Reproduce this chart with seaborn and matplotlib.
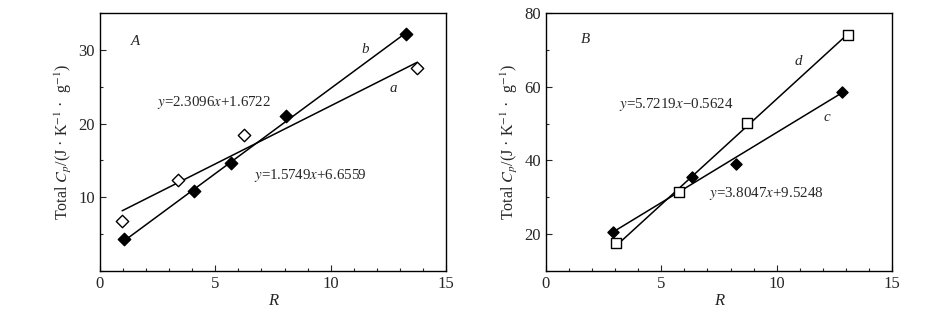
import numpy as np
import pandas as pd
import matplotlib
matplotlib.use("Agg")
import matplotlib.pyplot as plt
import seaborn as sns
from matplotlib.ticker import MultipleLocator

# ---- data ----
# Panel A
a_x = [0.96, 3.4, 6.24, 13.75]
a_y = [6.8, 12.4, 18.5, 27.5]
b_x = [1.02, 4.07, 5.66, 8.08, 13.25]
b_y = [4.3, 10.8, 14.6, 21.0, 32.1]
a_coef = (1.5749, 6.6559)
b_coef = (2.3096, 1.6722)
# Panel B
c_x = [2.89, 6.31, 8.25, 12.85]
c_y = [20.5, 35.5, 39.1, 58.6]
d_x = [3.04, 5.78, 8.70, 13.08]
d_y = [17.6, 31.4, 50.1, 73.9]
c_coef = (3.8047, 9.5248)
d_coef = (5.7219, -0.5624)

eq_a = r"$y$=1.5749$x$+6.6559"
eq_b = r"$y$=2.3096$x$+1.6722"
eq_c = r"$y$=3.8047$x$+9.5248"
eq_d = r"$y$=5.7219$x$−0.5624"
ylabel = r"Total $C_p$/(J · K$^{-1}$ ·  g$^{-1}$)"

sns.set_style("ticks")
plt.rcParams["font.family"] = ["Liberation Serif", "DejaVu Serif"]
plt.rcParams["mathtext.fontset"] = "stix"
plt.rcParams["xtick.direction"] = "in"
plt.rcParams["ytick.direction"] = "in"

fig = plt.figure(figsize=(9.45, 3.25), dpi=100)
axA = fig.add_axes([100/945, 54/325, 346/945, 258/325])
axB = fig.add_axes([546/945, 54/325, 346/945, 258/325])

FS = 10.8
TFS = 12

def fitline(ax, xs, coef):
    x = np.array([min(xs), max(xs)])
    df = pd.DataFrame({"x": x, "y": coef[0]*x + coef[1]})
    sns.lineplot(data=df, x="x", y="y", ax=ax, color="black", lw=1.1, legend=False)

def pts(ax, xs, ys, marker, filled, size):
    df = pd.DataFrame({"x": xs, "y": ys})
    sns.scatterplot(data=df, x="x", y="y", ax=ax, marker=marker, s=size,
                    facecolor="black" if filled else "white",
                    edgecolor="black", linewidth=1.0, zorder=3, legend=False)

# Panel A
fitline(axA, a_x, a_coef)
fitline(axA, b_x, b_coef)
pts(axA, a_x, a_y, "D", False, 40)
pts(axA, b_x, b_y, "D", True, 40)
axA.set_xlim(0, 15)
axA.set_ylim(0, 35)
axA.set_yticks([10, 20, 30])
axA.yaxis.set_minor_locator(MultipleLocator(5))
axA.text(1.55, 31.2, "A", style="italic", fontsize=FS, va="center", ha="center")
axA.text(11.49, 30.0, "b", style="italic", fontsize=FS, va="center", ha="center")
axA.text(12.73, 24.8, "a", style="italic", fontsize=FS, va="center", ha="center")
axA.text(2.48, 22.8, eq_b, fontsize=FS, va="center", ha="left")
axA.text(6.68, 12.9, eq_a, fontsize=FS, va="center", ha="left")

# Panel B
fitline(axB, c_x, c_coef)
fitline(axB, d_x, d_coef)
pts(axB, c_x, c_y, "D", True, 32)
pts(axB, d_x, d_y, "s", False, 60)
axB.set_xlim(0, 15)
axB.set_ylim(10, 80)
axB.set_yticks([20, 40, 60, 80])
axB.yaxis.set_minor_locator(MultipleLocator(10))
axB.text(1.72, 72.8, "B", style="italic", fontsize=FS, va="center", ha="center")
axB.text(10.92, 66.8, "d", style="italic", fontsize=FS, va="center", ha="center")
axB.text(12.16, 51.7, "c", style="italic", fontsize=FS, va="center", ha="center")
axB.text(3.15, 55.2, eq_d, fontsize=FS, va="center", ha="left")
axB.text(7.05, 31.0, eq_c, fontsize=FS, va="center", ha="left")

for ax in (axA, axB):
    ax.set_xticks([0, 5, 10, 15])
    ax.xaxis.set_minor_locator(MultipleLocator(1))
    ax.tick_params(which="major", length=4, width=0.8, labelsize=TFS, direction="in")
    ax.tick_params(which="minor", length=2.5, width=0.8, direction="in")
    for s in ax.spines.values():
        s.set_visible(True)
        s.set_linewidth(1.0)
        s.set_color("black")
    ax.set_xlabel("R", style="italic", fontsize=TFS, labelpad=1)
    ax.set_ylabel(ylabel, fontsize=11.5, labelpad=3)

fig.savefig("out.png", dpi=100)
